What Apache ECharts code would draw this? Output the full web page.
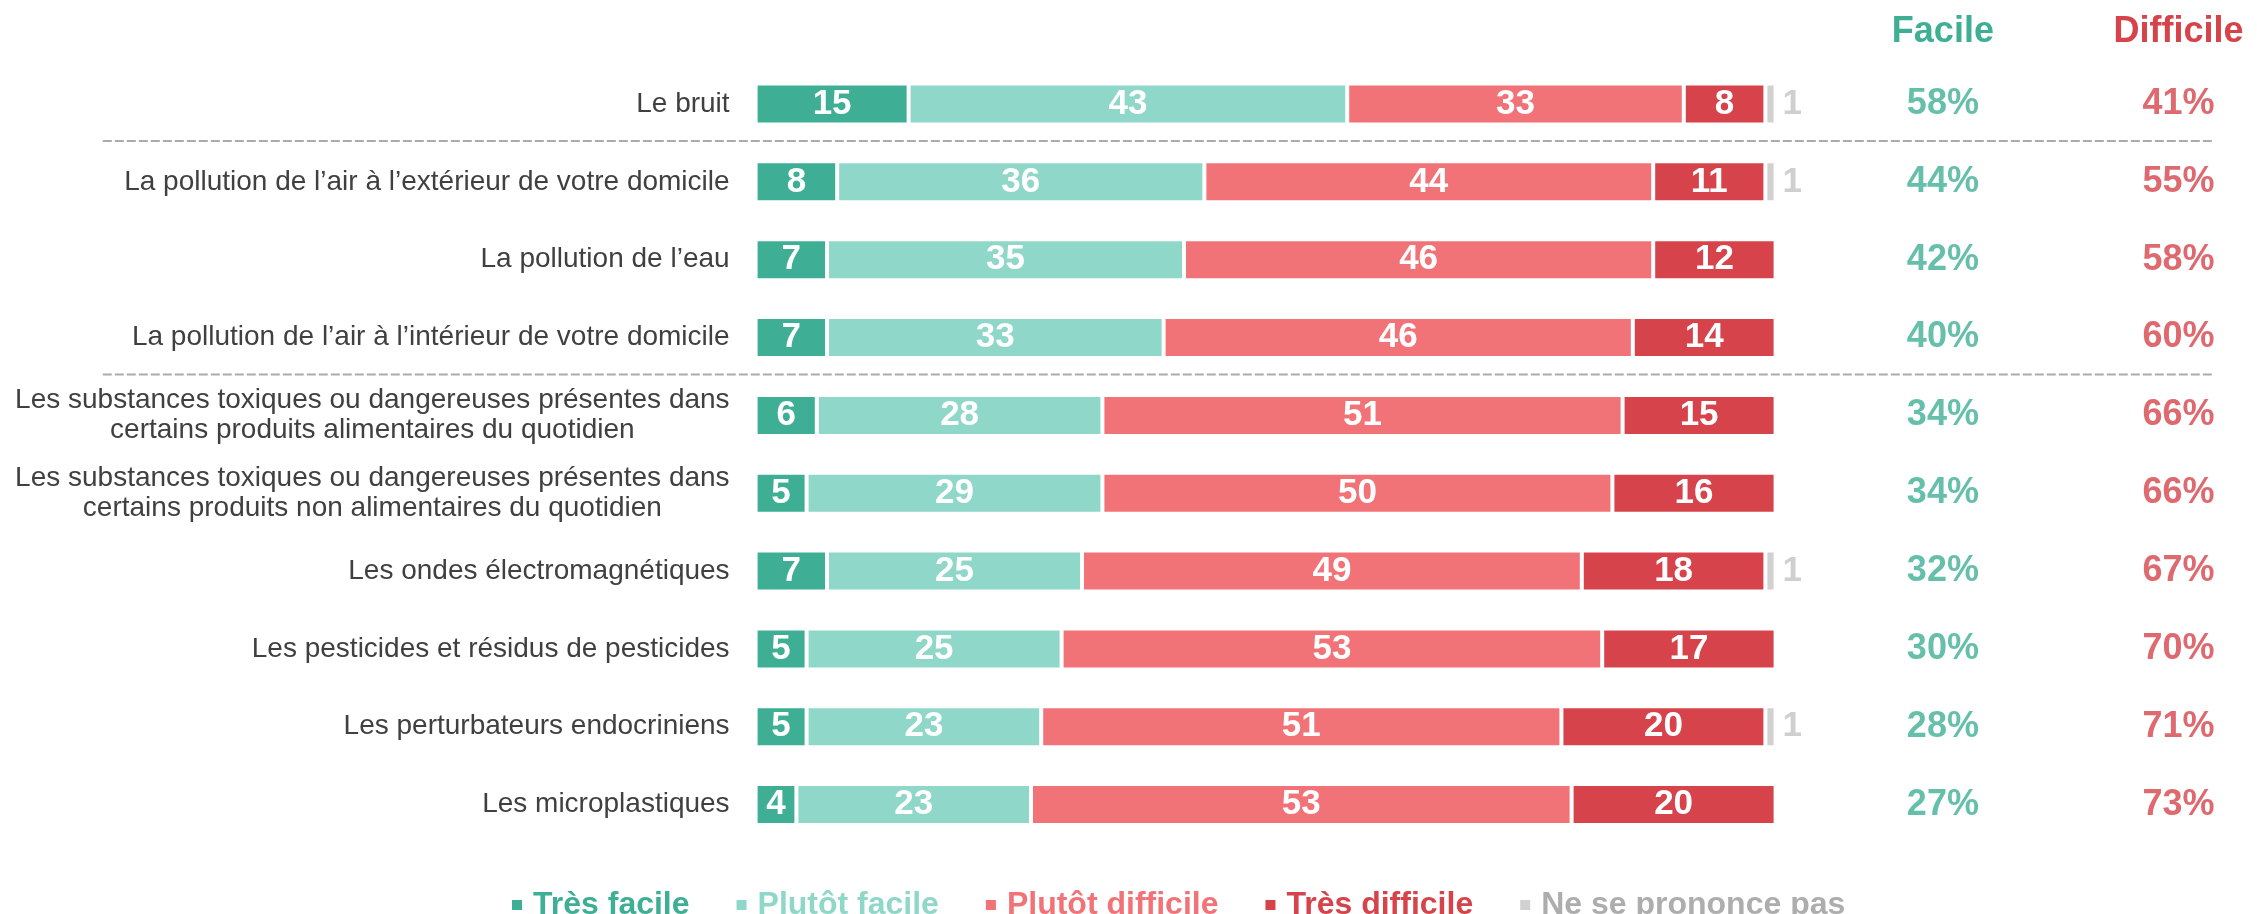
<!DOCTYPE html>
<html>
<head>
<meta charset="utf-8">
<script src="https://cdn.jsdelivr.net/npm/echarts@6/dist/echarts.min.js"></script>
<style>
html,body{margin:0;padding:0;background:#fff;}
#chart{width:2257px;height:914px;}
</style>
</head>
<body>
<div id="chart"></div>
<script>
const categories = [
  "Le bruit",
  "La pollution de l\u2019air \u00e0 l\u2019ext\u00e9rieur de votre domicile",
  "La pollution de l\u2019eau",
  "La pollution de l\u2019air \u00e0 l\u2019int\u00e9rieur de votre domicile",
  "Les substances toxiques ou dangereuses pr\u00e9sentes dans\ncertains produits alimentaires du quotidien",
  "Les substances toxiques ou dangereuses pr\u00e9sentes dans\ncertains produits non alimentaires du quotidien",
  "Les ondes \u00e9lectromagn\u00e9tiques",
  "Les pesticides et r\u00e9sidus de pesticides",
  "Les perturbateurs endocriniens",
  "Les microplastiques"
];
const seriesNames = ["Tr\u00e8s facile", "Plut\u00f4t facile", "Plut\u00f4t difficile", "Tr\u00e8s difficile", "Ne se prononce pas"];
const tresFacile      = [15, 8, 7, 7, 6, 5, 7, 5, 5, 4];
const plutotFacile    = [43, 36, 35, 33, 28, 29, 25, 25, 23, 23];
const plutotDifficile = [33, 44, 46, 46, 51, 50, 49, 53, 51, 53];
const tresDifficile   = [8, 11, 12, 14, 15, 16, 18, 17, 20, 20];
const nspp            = [1, 1, null, null, null, null, 1, null, 1, null];
const facileTotal     = [58, 44, 42, 40, 34, 34, 32, 30, 28, 27];
const difficileTotal  = [41, 55, 58, 60, 66, 66, 67, 70, 71, 73];
const headers = ["Facile", "Difficile"];
const separatorsAfter = [0, 3];

const colors = ["#3EAF95", "#8FD7C8", "#F27377", "#D6434B", "#D1D1D1"];
const legendTextColors = ["#3EAF95", "#8FD7C8", "#F27377", "#D6434B", "#ADADAD"];
const FONT = "'Liberation Sans', Arial, sans-serif";
const X_MIN = -64, X_MAX = 143;
const FAC_X = 116.4, DIF_X = 139.5;
const GRID_LEFT = 102.8, GRID_RIGHT = 42.8;
const UNIT_PX = (2257 - GRID_LEFT - GRID_RIGHT) / (X_MAX - X_MIN);

const chart = echarts.init(document.getElementById('chart'), null, {renderer: 'canvas'});

function barSeries(name, data, color, isGray) {
  return {
    name: name, type: 'bar', stack: 'total', barWidth: 41,
    data: data,
    itemStyle: {color: color, borderColor: '#fff', borderWidth: 2},
    label: isGray ? {
      show: true, position: 'right', distance: 7,
      color: '#CFCFCF', fontFamily: FONT, fontWeight: 'bold', fontSize: 35,
      formatter: p => (p.value == null ? '' : String(p.value))
    } : {
      show: true, position: 'inside', color: '#fff',
      fontFamily: FONT, fontWeight: 'bold', fontSize: 35,
      formatter: p => (p.value == null ? '' : String(p.value))
    },
    emphasis: {disabled: true},
    silent: true
  };
}

function pctSeries(x, totals, color) {
  return {
    type: 'scatter', symbolSize: 1, silent: true,
    itemStyle: {color: 'rgba(0,0,0,0)'},
    data: totals.map((v, i) => [x, categories[i]]),
    label: {
      show: true, position: 'inside', color: color,
      fontFamily: FONT, fontWeight: 'bold', fontSize: 36,
      formatter: p => totals[p.dataIndex] + '%'
    },
    emphasis: {disabled: true}
  };
}

const option = {
  animation: false,
  backgroundColor: '#fff',
  grid: {left: GRID_LEFT, right: GRID_RIGHT, top: 65.1, bottom: 70.5, containLabel: false, outerBoundsMode: 'none'},
  xAxis: {
    type: 'value', min: X_MIN, max: X_MAX, show: true,
    axisLine: {show: false}, axisTick: {show: false}, axisLabel: {show: false}, splitLine: {show: false}
  },
  yAxis: {
    type: 'category', inverse: true, data: categories,
    offset: -(0 - X_MIN) * UNIT_PX,
    axisLine: {show: false, onZero: false}, axisTick: {show: false},
    axisLabel: {
      margin: 26, align: 'right', color: '#404040', fontFamily: FONT, fontSize: 28, lineHeight: 30,
      formatter: v => v.split('\n').map(s => '{c|' + s + '}').join('\n'),
      rich: {c: {align: 'center', color: '#404040', fontFamily: FONT, fontSize: 28, lineHeight: 30}}
    }
  },
  legend: {
    left: 505, top: 884, icon: 'rect', itemWidth: 12, itemHeight: 12, itemGap: 45,
    textStyle: {fontFamily: FONT, fontWeight: 'bold', fontSize: 32, padding: [0, 0, 0, 5]},
    data: seriesNames.map((n, i) => ({name: n, textStyle: {color: legendTextColors[i]}})),
    selectedMode: false
  },
  series: [
    barSeries(seriesNames[0], tresFacile, colors[0]),
    barSeries(seriesNames[1], plutotFacile, colors[1]),
    barSeries(seriesNames[2], plutotDifficile, colors[2]),
    barSeries(seriesNames[3], tresDifficile, colors[3]),
    barSeries(seriesNames[4], nspp, colors[4], true),
    pctSeries(FAC_X, facileTotal, '#3EAF95'),
    pctSeries(DIF_X, difficileTotal, '#D6434B')
  ]
};
chart.setOption(option);

// separators and column headers positioned through the chart's scales
const xLeft = chart.convertToPixel({xAxisIndex: 0}, X_MIN);
const xRight = chart.convertToPixel({xAxisIndex: 0}, X_MAX);
const graphics = separatorsAfter.map(i => {
  const y0 = chart.convertToPixel({yAxisIndex: 0}, categories[i]);
  const y1 = chart.convertToPixel({yAxisIndex: 0}, categories[i + 1]);
  const y = (y0 + y1) / 2 - 2;
  return {
    type: 'line', silent: true,
    shape: {x1: xLeft, y1: y, x2: xRight, y2: y},
    style: {stroke: '#ABABAB', lineWidth: 2, lineDash: [9, 3]}
  };
});
const headerColors = ['#3EAF95', '#D6434B'];
[FAC_X, DIF_X].forEach((xv, i) => {
  graphics.push({
    type: 'text', silent: true,
    x: chart.convertToPixel({xAxisIndex: 0}, xv), y: 32,
    style: {text: headers[i], fill: headerColors[i], font: 'bold 36px ' + FONT, align: 'center', verticalAlign: 'middle'}
  });
});
chart.setOption({graphic: graphics});
</script>
</body>
</html>
